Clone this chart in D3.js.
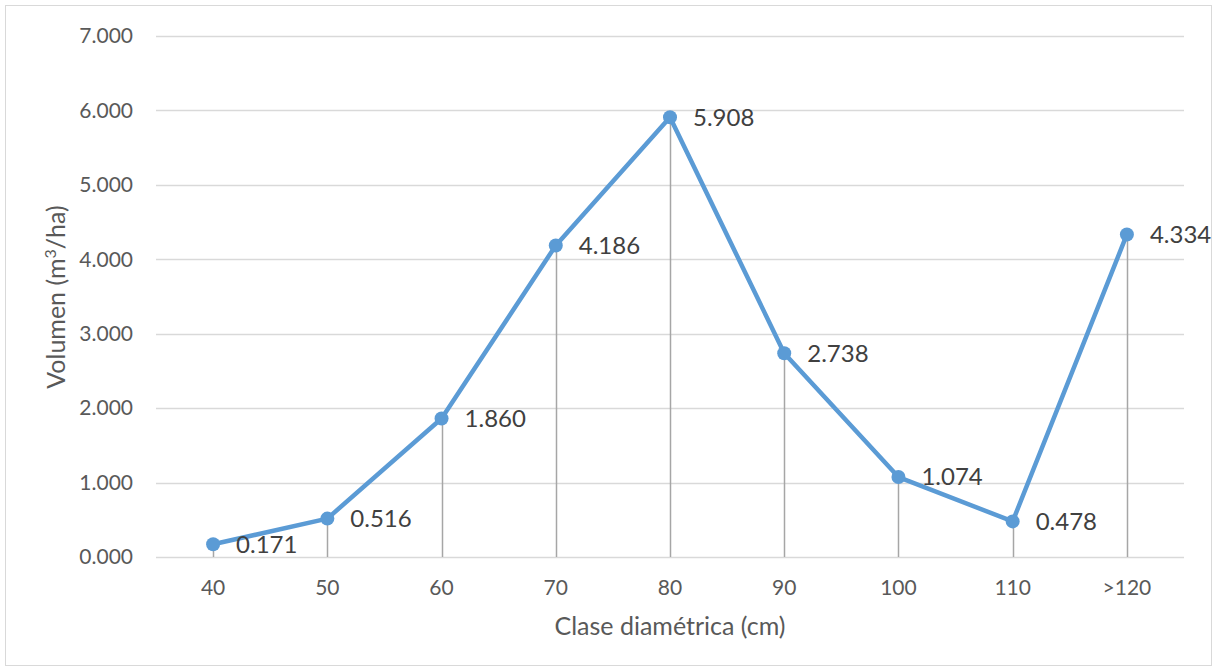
<!DOCTYPE html>
<html>
<head>
<meta charset="utf-8">
<script src="https://cdn.jsdelivr.net/npm/d3@7"></script>
<style>
  body { margin: 0; background: #fff; }
  text { font-family: Lato, "Open Sans", sans-serif; }
</style>
</head>
<body>
<svg id="chart"></svg>
<script>
// chart data
const categories = ["40", "50", "60", "70", "80", "90", "100", "110", ">120"];
const volumes = [0.171, 0.516, 1.860, 4.186, 5.908, 2.738, 1.074, 0.478, 4.334];
const yTicks = [0, 1, 2, 3, 4, 5, 6, 7];

const width = 1217, height = 671;
const plotLeft = 156, plotRight = 1184, plotTop = 36, plotBottom = 557;

const svg = d3.select("#chart")
  .attr("width", width)
  .attr("height", height);

// outer frame
svg.append("rect")
  .attr("x", 5.5).attr("y", 5.5)
  .attr("width", 1206).attr("height", 660)
  .attr("fill", "#fff")
  .attr("stroke", "#d9d9d9");

let fmt = d3.format(".3f");

let x = d3.scaleBand()
  .domain(categories)
  .range([plotLeft, plotRight]);

let y = d3.scaleLinear()
  .domain([0, 7])
  .range([plotBottom, plotTop]);

// gridlines
svg.append("g")
  .selectAll("line")
  .data(yTicks).enter()
  .append("line")
  .attr("x1", plotLeft).attr("x2", plotRight)
  .attr("y1", d => Math.round(y(d)) + 0.5)
  .attr("y2", d => Math.round(y(d)) + 0.5)
  .attr("stroke", "#d9d9d9")
  .attr("stroke-width", 1.3);

// y axis labels
let yAxis = d3.axisLeft(y)
  .tickValues(yTicks)
  .tickFormat(fmt)
  .tickSize(0)
  .tickPadding(23);
let yg = svg.append("g")
  .attr("transform", `translate(${plotLeft},0)`)
  .call(yAxis);
yg.select(".domain").remove();
yg.selectAll("text")
  .attr("fill", "#595959")
  .style("font-size", "21px");

// x axis labels
let xAxis = d3.axisBottom(x).tickSize(0).tickPadding(23);
let xg = svg.append("g")
  .attr("transform", `translate(0,${plotBottom})`)
  .call(xAxis);
xg.select(".domain").remove();
xg.selectAll("text")
  .attr("fill", "#595959")
  .style("font-size", "21px");

let cx = d => x(d) + x.bandwidth() / 2;

// drop lines
svg.append("g")
  .selectAll("line")
  .data(volumes).enter()
  .append("line")
  .attr("x1", (d, i) => Math.round(cx(categories[i])) + 0.5)
  .attr("x2", (d, i) => Math.round(cx(categories[i])) + 0.5)
  .attr("y1", d => y(d))
  .attr("y2", plotBottom)
  .attr("stroke", "#a6a6a6")
  .attr("stroke-width", 1.5);

// series line
let line = d3.line()
  .x((d, i) => cx(categories[i]))
  .y(d => y(d));
svg.append("path")
  .datum(volumes)
  .attr("d", line)
  .attr("fill", "none")
  .attr("stroke", "#5b9bd5")
  .attr("stroke-width", 4.5)
  .attr("stroke-linejoin", "round");

// markers
svg.append("g")
  .selectAll("circle")
  .data(volumes).enter()
  .append("circle")
  .attr("cx", (d, i) => cx(categories[i]))
  .attr("cy", d => y(d))
  .attr("r", 7)
  .attr("fill", "#5b9bd5");

// data labels
svg.append("g")
  .selectAll("text")
  .data(volumes).enter()
  .append("text")
  .attr("x", (d, i) => cx(categories[i]) + 23)
  .attr("y", d => y(d))
  .attr("dy", "0.35em")
  .attr("fill", "#404040")
  .style("font-size", "24px")
  .text(d => fmt(d));

// axis titles
svg.append("text")
  .attr("x", (plotLeft + plotRight) / 2)
  .attr("y", 635)
  .attr("text-anchor", "middle")
  .attr("fill", "#595959")
  .style("font-size", "25px")
  .text("Clase diamétrica (cm)");

let yt = svg.append("text")
  .attr("transform", `translate(65,297) rotate(-90)`)
  .attr("text-anchor", "middle")
  .attr("fill", "#595959")
  .style("font-size", "25px");
yt.append("tspan").text("Volumen (m");
yt.append("tspan").attr("dy", -9).style("font-size", "16px").text("3");
yt.append("tspan").attr("dy", 9).text("/ha)");
</script>
</body>
</html>
